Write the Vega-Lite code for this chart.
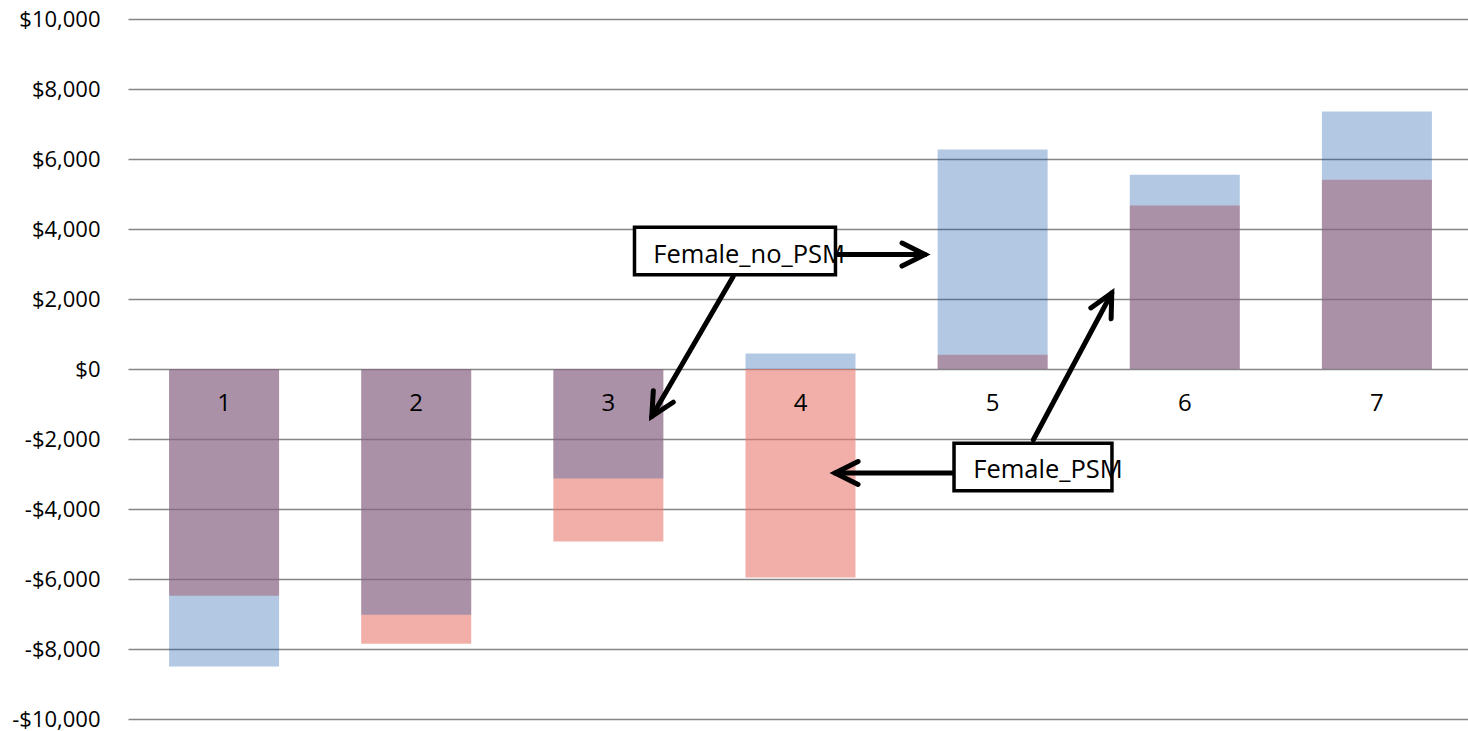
{
  "$schema": "https://vega.github.io/schema/vega-lite/v6.json",
  "width": 1340,
  "height": 700,
  "autosize": {"type": "none"},
  "padding": {"left": 128, "top": 19, "right": 0, "bottom": 12},
  "background": "white",
  "config": {"view": {"stroke": null}, "font": "Open Sans"},
  "datasets": {
    "bars": [
      {"group": 1, "Female_no_PSM": -8500, "Female_PSM": -6480},
      {"group": 2, "Female_no_PSM": -7020, "Female_PSM": -7850},
      {"group": 3, "Female_no_PSM": -3130, "Female_PSM": -4930},
      {"group": 4, "Female_no_PSM": 440, "Female_PSM": -5960},
      {"group": 5, "Female_no_PSM": 6270, "Female_PSM": 410},
      {"group": 6, "Female_no_PSM": 5550, "Female_PSM": 4670},
      {"group": 7, "Female_no_PSM": 7360, "Female_PSM": 5410}
    ],
    "boxes": [
      {"label": "Female_no_PSM", "x": 3.136, "x2": 4.182, "y": 4051, "y2": 2694, "tx": 3.234, "ty": 3266},
      {"label": "Female_PSM", "x": 4.799, "x2": 5.621, "y": -2120, "y2": -3477, "tx": 4.899, "ty": -2877}
    ],
    "arrows": [
      {"id": "a1", "x": 4.154, "y": 3270, "x2": 4.648, "y2": 3270},
      {"id": "a2", "x": 3.649, "y": 2637, "x2": 3.226, "y2": -1354},
      {"id": "a3", "x": 4.799, "y": -2971, "x2": 4.180, "y2": -2971},
      {"id": "a4", "x": 5.212, "y": -2020, "x2": 5.620, "y2": 2171}
    ]
  },
  "layer": [
    {
      "data": {"name": "bars"},
      "mark": {"type": "bar", "orient": "vertical", "width": 110, "color": "#E97A71", "opacity": 0.6},
      "encoding": {
        "x": {"field": "group", "type": "quantitative", "scale": {"domain": [0.5, 7.474], "nice": false, "zero": false, "padding": 0}, "axis": null},
        "y": {
          "field": "Female_PSM", "type": "quantitative", "stack": null,
          "scale": {"domain": [-10000, 10000], "nice": false, "padding": 0},
          "axis": {
            "title": null,
            "values": [-10000, -8000, -6000, -4000, -2000, 0, 2000, 4000, 6000, 8000, 10000],
            "labelExpr": "datum.value < 0 ? '-$' + format(-datum.value, ',') : '$' + format(datum.value, ',')",
            "grid": true, "gridColor": "#868686", "gridWidth": 1.6,
            "domain": false, "ticks": false, "tickSize": 0,
            "labelPadding": 28, "labelFontSize": 22, "labelColor": "#000000", "labelFont": "Open Sans"
          }
        }
      }
    },
    {
      "data": {"name": "bars"},
      "mark": {"type": "bar", "orient": "vertical", "width": 110, "color": "#024BA2", "opacity": 0.3},
      "encoding": {
        "x": {"field": "group", "type": "quantitative", "axis": null},
        "y": {"field": "Female_no_PSM", "type": "quantitative", "stack": null, "title": null}
      }
    },
    {
      "data": {"name": "bars"},
      "mark": {"type": "text", "fontSize": 24, "baseline": "middle", "align": "center", "color": "#000000"},
      "encoding": {
        "x": {"field": "group", "type": "quantitative", "axis": null},
        "y": {"datum": -1000, "type": "quantitative", "title": null},
        "text": {"field": "group", "type": "nominal"}
      }
    },
    {
      "data": {"name": "arrows"},
      "mark": {"type": "rule", "color": "#000000", "strokeWidth": 5, "strokeCap": "round"},
      "encoding": {
        "x": {"field": "x", "type": "quantitative", "axis": null},
        "y": {"field": "y", "type": "quantitative", "title": null},
        "x2": {"field": "x2"},
        "y2": {"field": "y2"}
      }
    },
    {
      "data": {"name": "arrows"},
      "transform": [{"filter": "datum.id == 'a1'"}],
      "mark": {"type": "point", "shape": "M -1 -0.5 L 0 0 L -1 0.5", "size": 2116, "filled": false, "stroke": "#000000", "strokeWidth": 5, "strokeCap": "round", "opacity": 1, "angle": 0},
      "encoding": {
        "x": {"field": "x2", "type": "quantitative", "axis": null},
        "y": {"field": "y2", "type": "quantitative", "title": null}
      }
    },
    {
      "data": {"name": "arrows"},
      "transform": [{"filter": "datum.id == 'a2'"}],
      "mark": {"type": "point", "shape": "M -1 -0.5 L 0 0 L -1 0.5", "size": 2116, "filled": false, "stroke": "#000000", "strokeWidth": 5, "strokeCap": "round", "opacity": 1, "angle": 120},
      "encoding": {
        "x": {"field": "x2", "type": "quantitative", "axis": null},
        "y": {"field": "y2", "type": "quantitative", "title": null}
      }
    },
    {
      "data": {"name": "arrows"},
      "transform": [{"filter": "datum.id == 'a3'"}],
      "mark": {"type": "point", "shape": "M -1 -0.5 L 0 0 L -1 0.5", "size": 2116, "filled": false, "stroke": "#000000", "strokeWidth": 5, "strokeCap": "round", "opacity": 1, "angle": 180},
      "encoding": {
        "x": {"field": "x2", "type": "quantitative", "axis": null},
        "y": {"field": "y2", "type": "quantitative", "title": null}
      }
    },
    {
      "data": {"name": "arrows"},
      "transform": [{"filter": "datum.id == 'a4'"}],
      "mark": {"type": "point", "shape": "M -1 -0.5 L 0 0 L -1 0.5", "size": 2116, "filled": false, "stroke": "#000000", "strokeWidth": 5, "strokeCap": "round", "opacity": 1, "angle": 298},
      "encoding": {
        "x": {"field": "x2", "type": "quantitative", "axis": null},
        "y": {"field": "y2", "type": "quantitative", "title": null}
      }
    },
    {
      "data": {"name": "boxes"},
      "mark": {"type": "rect", "fill": "#ffffff", "stroke": "#000000", "strokeWidth": 3.5, "opacity": 1},
      "encoding": {
        "x": {"field": "x", "type": "quantitative", "axis": null},
        "x2": {"field": "x2"},
        "y": {"field": "y", "type": "quantitative", "title": null},
        "y2": {"field": "y2"}
      }
    },
    {
      "data": {"name": "boxes"},
      "mark": {"type": "text", "fontSize": 25.5, "align": "left", "baseline": "middle", "color": "#000000"},
      "encoding": {
        "x": {"field": "tx", "type": "quantitative", "axis": null},
        "y": {"field": "ty", "type": "quantitative", "title": null},
        "text": {"field": "label", "type": "nominal"}
      }
    }
  ]
}
